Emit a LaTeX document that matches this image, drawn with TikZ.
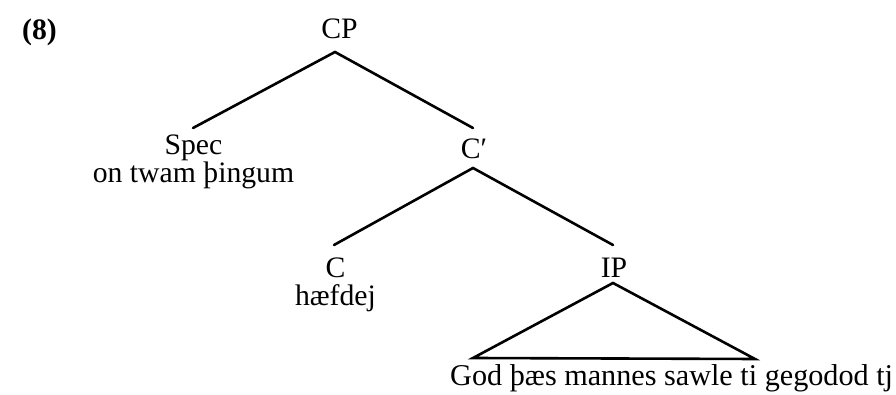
\documentclass[tikz,border=0pt]{standalone}
\usepackage{fontspec}
\setmainfont{Liberation Serif}
\begin{document}
\begin{tikzpicture}[x=1pt,y=1pt,
  lbl/.style={inner sep=0pt, anchor=base, font=\fontsize{29.7}{32}\selectfont},
  stack/.style={inner sep=0pt, anchor=north, align=center, font=\fontsize{29.7}{26}\selectfont},
  branch/.style={line width=2.6pt, line cap=round, line join=miter}]
\useasboundingbox (0,0) rectangle (896,395);

% example number
\node[lbl, font=\fontsize{29.7}{32}\selectfont\bfseries] (ex) at (39.5,355) {(8)};

% node labels (category over words)
\node[lbl]   (CP)   at (339.5,356) {CP};
\node[stack] (Spec) at (193.5,260) {Spec\\on twam þingum};
\node[lbl]   (Cbar) at (474,236)   {C′};
\node[stack, font=\fontsize{29.7}{27.5}\selectfont] (C) at (335.5,137) {C\\hæfdej};
\node[lbl]   (IP)   at (614,117)   {IP};
\node[lbl, anchor=base west, font=\fontsize{30.2}{32}\selectfont] (IPW) at (450,9) {God þæs mannes sawle ti gegodod tj};

% branch end points
\coordinate (cpTop)   at (335,343);
\coordinate (specEnd) at (193,267);
\coordinate (cbarEnd) at (473,267);
\coordinate (cbarTop) at (473,227);
\coordinate (cEnd)    at (334,150);
\coordinate (ipEnd)   at (613,150);
\coordinate (ipTop)   at (613,112);
\coordinate (triL)    at (473,37);
\coordinate (triR)    at (755,36);

% branches
\draw[branch] (specEnd) -- (cpTop) -- (cbarEnd);
\draw[branch] (cEnd) -- (cbarTop) -- (ipEnd);
\draw[branch] (triL) -- (ipTop) -- (triR) -- cycle;
\end{tikzpicture}
\end{document}
